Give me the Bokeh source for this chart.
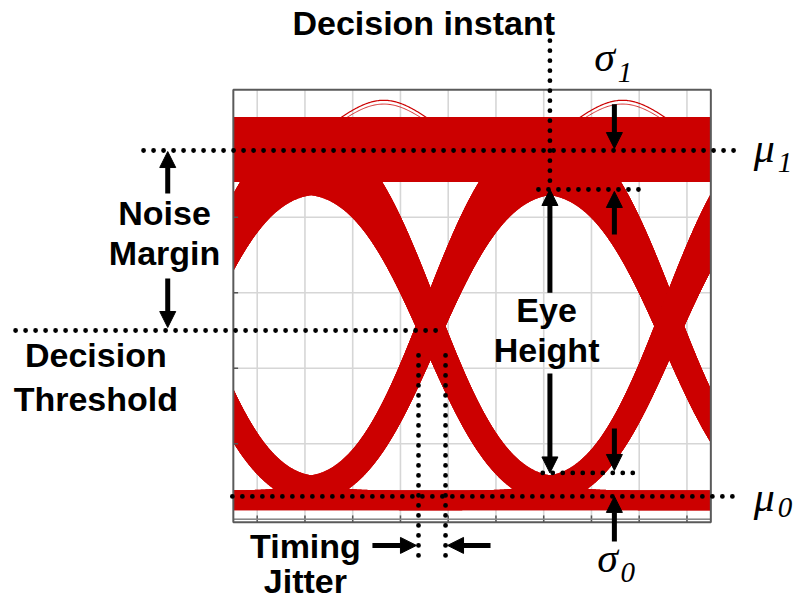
import math
import numpy as np
from bokeh.plotting import figure
from bokeh.models import Range1d, Arrow, NormalHead, ColumnDataSource
from bokeh.core.properties import value
from bokeh.embed import file_html
from bokeh.resources import INLINE

# ---------------- data (time in scope divisions, amplitude in scope divisions) ----------------
frame_x = [-0.5, 9.5]
frame_y = [-0.04, 5.69]
x_grid = [0, 1, 2, 3, 4, 5, 6, 7, 8, 9]
y_grid = [0, 1, 2, 3, 4, 5]

crossings = [-1.37, 3.63, 8.63]      # bit boundaries (crossing instants)
level_one = 4.90                     # centre of the '1' rail
level_zero = 0.25                    # centre of the '0' rail
noise_one = 0.43                     # half thickness of the '1' rail
noise_zero = 0.13                    # half thickness of the '0' rail
edge_spread = 1.217                  # gaussian edge spread
jitter_spread = 0.13                 # timing jitter (half width)

# rare overshoot traces seen above the '1' rail
overshoot_centre = [2.65, 7.65]
overshoot_peak = [5.55, 5.55]
overshoot_half_width = [0.95, 0.95]
overshoot_base = 5.30

mu_one = 4.885
mu_zero = 0.302
threshold = 2.50
t_decision = 6.13
eye_top = 4.368
eye_bottom = 0.613
jitter_left = 3.378
jitter_right = 3.944

# canvas extents in the same units
canvas_x = [-5.376, 11.252]
canvas_y = [-1.090, 6.872]
PX_PER_Y = 601 / (canvas_y[1] - canvas_y[0])

RED = "#cc0000"

p = figure(width=794, height=601, output_backend="svg", toolbar_location=None,
           x_range=Range1d(*canvas_x), y_range=Range1d(*canvas_y),
           x_axis_location=None, y_axis_location=None, min_border=0)
p.grid.visible = False
p.outline_line_color = None
p.background_fill_color = "white"

# ---------------- grid ----------------
p.segment(x0=x_grid, y0=[frame_y[0]] * len(x_grid), x1=x_grid, y1=[frame_y[1]] * len(x_grid),
          line_color="#d6d6d6", line_width=1.6)
p.segment(x0=[frame_x[0]] * len(y_grid), y0=y_grid, x1=[frame_x[1]] * len(y_grid), y1=y_grid,
          line_color="#d6d6d6", line_width=1.6)

# ---------------- eye traces ----------------
erf = np.vectorize(math.erf)


def phi(u):
    return 0.5 * (1.0 + erf(u / math.sqrt(2.0)))


def wave(t, bits):
    c1, c2, c3 = crossings
    s = edge_spread
    w = (bits[0] * (1 - phi((t - c1) / s))
         + bits[1] * (phi((t - c1) / s) - phi((t - c2) / s))
         + bits[2] * (phi((t - c2) / s) - phi((t - c3) / s))
         + bits[3] * phi((t - c3) / s))
    return level_zero + (level_one - level_zero) * w


def half_thick(v):
    f = np.clip((v - level_zero) / (level_one - level_zero), 0, 1)
    return noise_zero + (noise_one - noise_zero) * f


t = np.linspace(frame_x[0], frame_x[1], 900)
for n in range(16):
    bits = [(n >> k) & 1 for k in range(4)]
    ups, los = [], []
    for j in np.linspace(-jitter_spread, jitter_spread, 9):
        v = wave(t - j, bits)
        h = half_thick(v)
        ups.append(v + h)
        los.append(v - h)
    upper = np.max(ups, axis=0)
    lower = np.min(los, axis=0)
    p.varea(x=t, y1=lower, y2=upper, fill_color=RED)

# thin overshoot traces
for c, pk, hw in zip(overshoot_centre, overshoot_peak, overshoot_half_width):
    ts = np.linspace(c - hw, c + hw, 80)
    ys = overshoot_base + (pk - overshoot_base) * np.cos(0.5 * np.pi * (ts - c) / hw)
    p.line(ts, ys, line_color=RED, line_width=1.2)
    p.line(ts, ys - 0.05, line_color=RED, line_width=0.8)

# ---------------- frame and ticks ----------------
p.segment(x0=x_grid, y0=[frame_y[0]] * len(x_grid), x1=x_grid, y1=[0.05] * len(x_grid),
          line_color="#555555", line_width=1.5)
p.segment(x0=[frame_x[0]] * 4, y0=y_grid[1:5], x1=[frame_x[0] + 0.1] * 4, y1=y_grid[1:5],
          line_color="#555555", line_width=1.5)
p.segment(x0=[frame_x[0]], y0=[0], x1=[frame_x[1]], y1=[0], line_color="#888888", line_width=1.5)
p.quad(left=frame_x[0], right=frame_x[1], bottom=frame_y[0], top=frame_y[1],
       fill_color=None, line_color="#5a5a5a", line_width=2)

# ---------------- dotted guides ----------------
dots = ColumnDataSource(dict(
    x0=[-2.38, -0.52, -5.06, t_decision, 5.89, 5.98, jitter_left, jitter_right],
    y0=[mu_one, mu_zero, threshold, 6.34, eye_top, eye_bottom, 2.17, 2.17],
    x1=[10.12, 10.12, 3.90, t_decision, 7.99, 8.03, jitter_left, jitter_right],
    y1=[mu_one, mu_zero, threshold, eye_top, eye_top, eye_bottom, -0.52, -0.52],
))
p.segment(x0="x0", y0="y0", x1="x1", y1="y1", source=dots, line_color="black",
          line_width=4.8, line_dash="0 10", line_cap="round")

# ---------------- arrows ----------------
arrows = ColumnDataSource(dict(
    xs=[-1.874, -1.874, t_decision, t_decision, 7.48, 7.48, 7.48, 7.48, 2.413, 4.886],
    ys=[4.315, 3.189, 3.00, 1.93, 5.496, 3.772, 1.203, -0.294, -0.347, -0.347],
    xe=[-1.874, -1.874, t_decision, t_decision, 7.48, 7.48, 7.48, 7.48, 3.335, 3.986],
    ye=[4.871, 2.54, eye_top, eye_bottom, 4.911, 4.342, 0.646, mu_zero, -0.347, -0.347],
))
p.add_layout(Arrow(end=NormalHead(size=16, fill_color="black", line_color="black", line_width=1),
                   x_start="xs", y_start="ys", x_end="xe", y_end="ye", source=arrows,
                   line_color="black", line_width=5))

# ---------------- labels ----------------
def lift(ys, size_px):
    # rendered alphabetic baseline sits ~0.37 em below the anchor; compensate
    return [y + 0.37 * size_px / PX_PER_Y for y in ys]


label_x = [3.487, -1.94, -1.94, -3.38, -3.38, 6.06, 6.06, 1.01, 1.01]
label_y = [6.408, 3.891, 3.362, 2.011, 1.428, 2.607, 2.077, -0.519, -0.99]
label_text = ["Decision instant", "Noise", "Margin", "Decision", "Threshold",
              "Eye", "Height", "Timing", "Jitter"]
p.text(x=label_x, y=lift(label_y, 34), text=label_text,
       text_font=value("Liberation Sans"), text_font_style="bold",
       text_font_size="34px", text_color="black", text_align="center",
       text_baseline="alphabetic")

greek_x = [7.06, 10.40, 10.40, 7.12]
greek_y = [5.917, 4.713, 0.090, -0.718]
greek_text = ["σ", "μ", "μ", "σ"]
sub_x = [7.55, 10.90, 10.90, 7.61]
sub_y = [5.771, 4.580, 0.011, -0.85]
sub_text = ["1", "1", "0", "0"]
greek = dict(text_font=value("Liberation Serif"), text_font_style="italic",
             text_color="black", text_align="left", text_baseline="alphabetic")
p.text(x=greek_x, y=lift(greek_y, 42), text=greek_text, text_font_size="42px", **greek)
p.text(x=sub_x, y=lift(sub_y, 29), text=sub_text, text_font_size="29px", **greek)

open("out.html", "w").write(file_html(p, INLINE))
